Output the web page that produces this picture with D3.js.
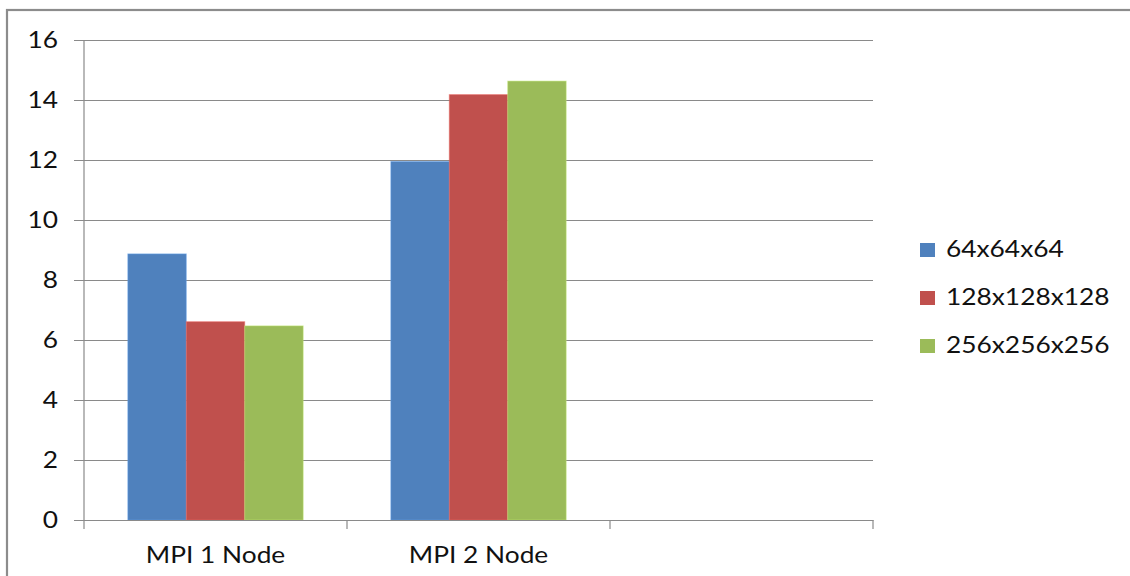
<!DOCTYPE html>
<html>
<head>
<meta charset="utf-8">
<script src="https://cdn.jsdelivr.net/npm/d3@7"></script>
<style>
  html, body { margin: 0; padding: 0; background: #fff; }
  svg { display: block; }
  text { font-family: Lato, "Open Sans", sans-serif; fill: #111; }
</style>
</head>
<body>
<svg id="chart" width="1130" height="576"></svg>
<script>
// Categories along the x axis (the third slot is left empty)
const categories = ["MPI 1 Node", "MPI 2 Node", ""];
// Grid sizes shown in the legend
const seriesNames = ["64x64x64", "128x128x128", "256x256x256"];
// One value per category for each grid size
const s64 = [8.87, 11.95, null];
const s128 = [6.61, 14.18, null];
const s256 = [6.47, 14.63, null];
const seriesValues = [s64, s128, s256];
const seriesColors = ["#4F81BD", "#C0504D", "#9BBB59"];
const yTicks = [0, 2, 4, 6, 8, 10, 12, 14, 16];

const svg = d3.select("#chart");
const plot = { left: 84, right: 873, top: 40, bottom: 520 };
const gridColor = "#8a8a8a";
const stretch = 1.12;

// outer frame
svg.append("rect")
  .attr("x", 7).attr("y", 10).attr("width", 1200).attr("height", 700)
  .attr("fill", "none").attr("stroke", "#8c8c8c").attr("stroke-width", 2.2);

const x = d3.scaleBand().domain(categories).range([plot.left, plot.right]).padding(0);
const y = d3.scaleLinear().domain([0, 16]).range([plot.bottom, plot.top]);

// Excel-style gap width of 150% of a bar
const barW = x.bandwidth() / 4.5;
const xInner = d3.scaleBand().domain(seriesNames)
  .range([barW * 0.75, barW * 0.75 + barW * 3]).padding(0);

// horizontal gridlines with tick marks
const yAxis = d3.axisLeft(y).tickValues(yTicks)
  .tickSize(-(plot.right - plot.left)).tickSizeOuter(0).tickFormat("");
const gy = svg.append("g").attr("transform", `translate(${plot.left},0)`).call(yAxis);
gy.select(".domain").remove();
gy.selectAll(".tick line").attr("stroke", gridColor).attr("stroke-width", 1.2)
  .attr("x1", -10);

// bars
seriesNames.forEach((name, si) => {
  svg.append("g").selectAll("rect")
    .data(categories.map((c, ci) => ({ c, v: seriesValues[si][ci] })).filter(d => d.v != null))
    .join("rect")
    .attr("x", d => x(d.c) + xInner(name))
    .attr("y", d => y(d.v))
    .attr("width", xInner.bandwidth())
    .attr("height", d => y(0) - y(d.v))
    .attr("fill", seriesColors[si])
    .attr("stroke", d3.color(seriesColors[si]).brighter(0.6))
    .attr("stroke-opacity", 0.5)
    .attr("stroke-width", 1);
});

// y axis line
svg.append("line")
  .attr("x1", plot.left).attr("x2", plot.left)
  .attr("y1", plot.top).attr("y2", plot.bottom)
  .attr("stroke", gridColor).attr("stroke-width", 1.2);

// x axis with category boundary ticks
const xAxis = d3.axisBottom(x).tickSize(0).tickSizeOuter(0).tickFormat("");
const gx = svg.append("g").attr("transform", `translate(0,${plot.bottom})`).call(xAxis);
gx.select(".domain").attr("stroke", gridColor).attr("stroke-width", 1.2);
const bounds = categories.map(c => x(c)).concat([x(categories[categories.length - 1]) + x.bandwidth()]);
gx.selectAll("line.bound").data(bounds).join("line").attr("class", "bound")
  .attr("x1", d => d).attr("x2", d => d).attr("y1", 0).attr("y2", 9)
  .attr("stroke", gridColor).attr("stroke-width", 1.2);

// y tick labels
svg.append("g").selectAll("text").data(yTicks).join("text")
  .attr("transform", d => `translate(58,${y(d) + 8}) scale(${stretch},1)`)
  .attr("text-anchor", "end")
  .attr("font-size", 23.5)
  .text(d => d);

// category labels
svg.append("g").selectAll("text").data(categories.filter(c => c)).join("text")
  .attr("transform", c => `translate(${x(c) + x.bandwidth() / 2},563) scale(${stretch},1)`)
  .attr("text-anchor", "middle")
  .attr("font-size", 23.5)
  .text(c => c);

// legend
const legend = svg.append("g");
seriesNames.forEach((name, i) => {
  const ly = 257 + i * 48;
  legend.append("rect")
    .attr("x", 920).attr("y", ly - 14).attr("width", 15).attr("height", 14)
    .attr("fill", seriesColors[i]);
  legend.append("text")
    .attr("transform", `translate(946,${ly}) scale(1.17,1)`)
    .attr("font-size", 22.5)
    .text(name);
});
</script>
</body>
</html>
